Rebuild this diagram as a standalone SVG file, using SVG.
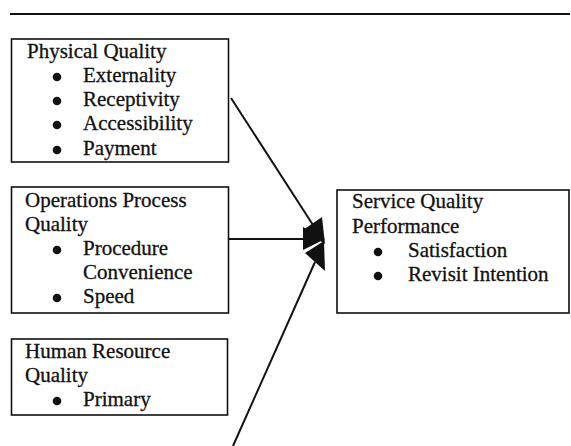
<svg xmlns="http://www.w3.org/2000/svg" width="571" height="446" viewBox="0 0 571 446">
  <style>
    .box { fill: #ffffff; stroke: #111111; stroke-width: 1.6; }
    .t { font-family: "Liberation Serif", "Times New Roman", serif; font-size: 21px; fill: #111111; stroke: #111111; stroke-width: 0.3; }
    .dot { fill: #111111; }
    .wire { stroke: #111111; stroke-width: 2; fill: none; }
    .head { fill: #111111; stroke: none; }
  </style>
  <rect width="571" height="446" fill="#ffffff"/>

  <!-- rule across the top -->
  <line x1="10" y1="14" x2="570" y2="14" stroke="#111111" stroke-width="2"/>

  <g id="physical-quality">
    <rect class="box" x="11.5" y="39" width="217" height="123"/>
    <text class="t" x="27" y="58">Physical Quality</text>
    <circle class="dot" cx="57" cy="77" r="4.3"/>
    <text class="t" x="83" y="82">Externality</text>
    <circle class="dot" cx="57" cy="101" r="4.3"/>
    <text class="t" x="83" y="106">Receptivity</text>
    <circle class="dot" cx="57" cy="125" r="4.3"/>
    <text class="t" x="83" y="130">Accessibility</text>
    <circle class="dot" cx="57" cy="150" r="4.3"/>
    <text class="t" x="83" y="155">Payment</text>
  </g>

  <g id="operations-process-quality">
    <rect class="box" x="11.5" y="187" width="217" height="126"/>
    <text class="t" x="25" y="207">Operations Process</text>
    <text class="t" x="25" y="231">Quality</text>
    <circle class="dot" cx="57" cy="250" r="4.3"/>
    <text class="t" x="83" y="255">Procedure</text>
    <text class="t" x="83" y="279">Convenience</text>
    <circle class="dot" cx="57" cy="298" r="4.3"/>
    <text class="t" x="83" y="303">Speed</text>
  </g>

  <g id="human-resource-quality">
    <rect class="box" x="11.5" y="339" width="216" height="76"/>
    <text class="t" x="25" y="358">Human Resource</text>
    <text class="t" x="25" y="382">Quality</text>
    <circle class="dot" cx="57" cy="401" r="4.3"/>
    <text class="t" x="83" y="406">Primary</text>
  </g>

  <g id="service-quality-performance">
    <rect class="box" x="337" y="190" width="232" height="123"/>
    <text class="t" x="352" y="208">Service Quality</text>
    <text class="t" x="352" y="233">Performance</text>
    <circle class="dot" cx="378" cy="252" r="4.3"/>
    <text class="t" x="408" y="257">Satisfaction</text>
    <circle class="dot" cx="378" cy="276" r="4.3"/>
    <text class="t" x="408" y="281">Revisit Intention</text>
  </g>

  <g id="connectors">
    <!-- physical quality -> performance -->
    <line class="wire" x1="231" y1="98" x2="313" y2="225"/>
    <polygon class="head" points="325,244 303,230 322,217"/>
    <!-- operations process quality -> performance -->
    <line class="wire" x1="229" y1="239" x2="304" y2="239"/>
    <polygon class="head" points="325,239 303,227 303,250"/>
    <!-- human resource quality -> performance -->
    <line class="wire" x1="233" y1="446" x2="315" y2="262"/>
    <polygon class="head" points="324,241 305,253 325,271"/>
  </g>
</svg>
